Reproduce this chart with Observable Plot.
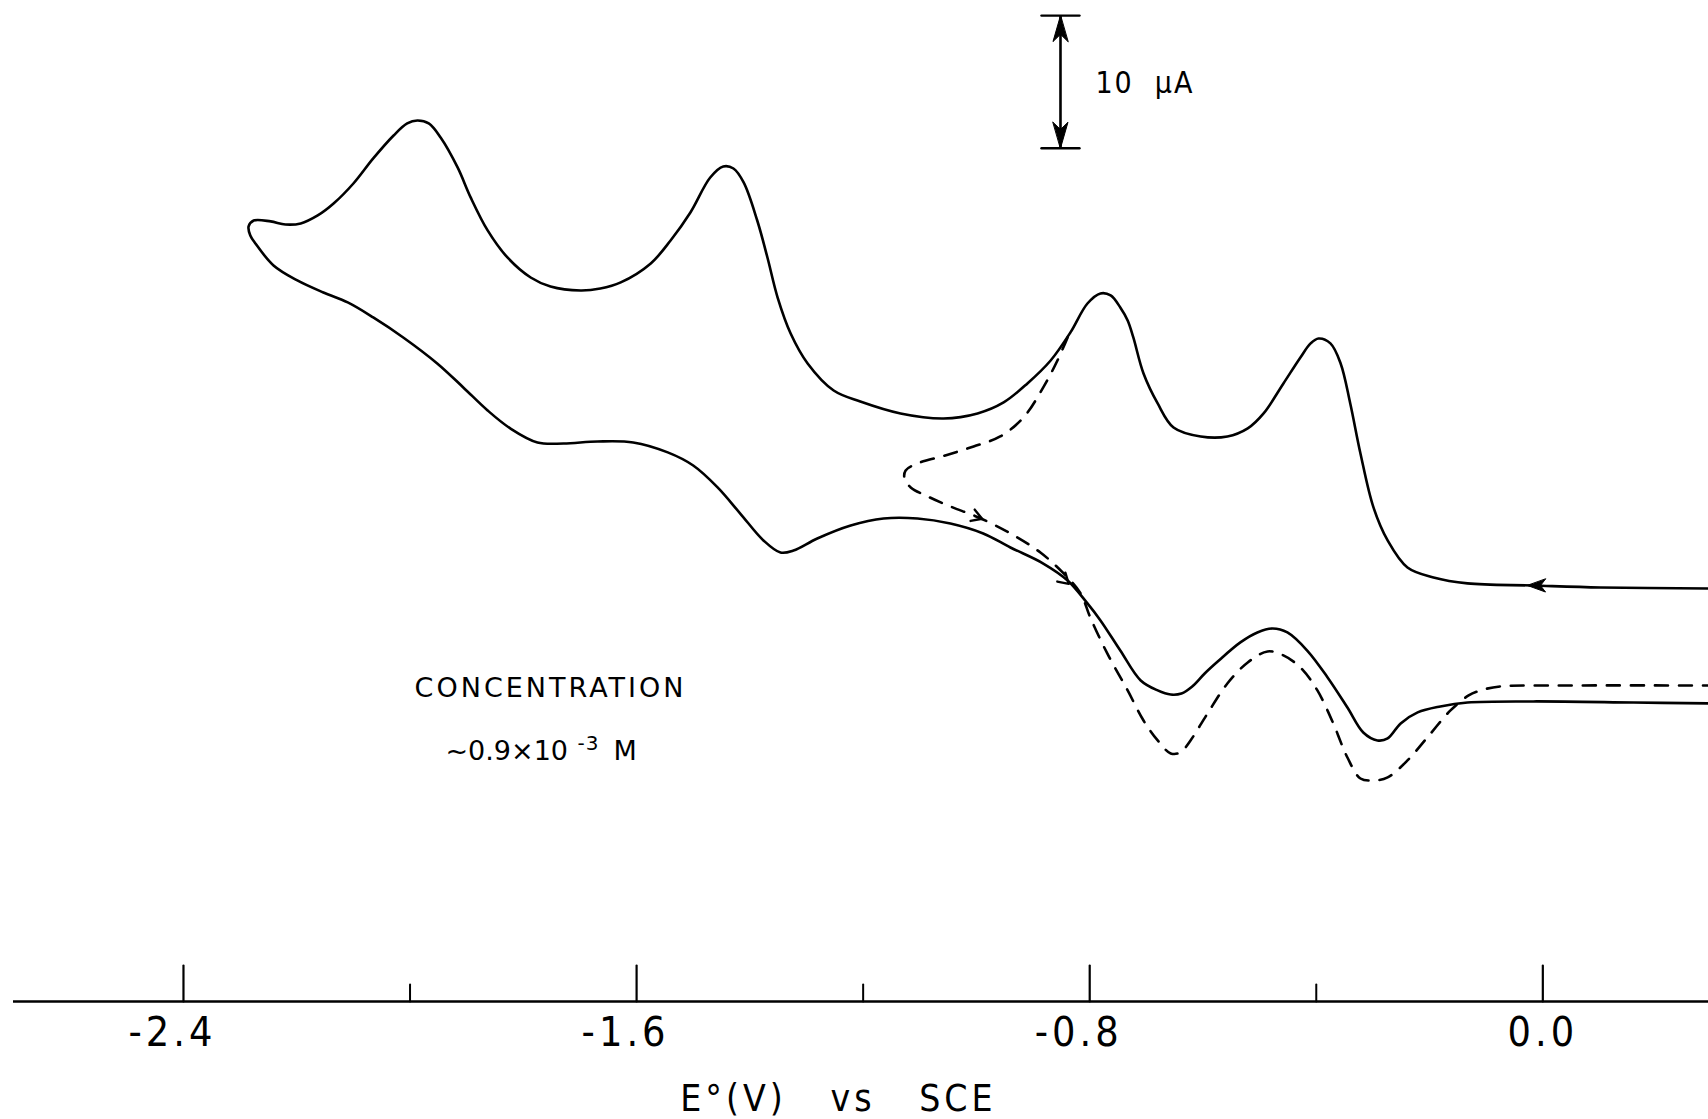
<!DOCTYPE html>
<html>
<head>
<meta charset="utf-8">
<script src="https://cdn.jsdelivr.net/npm/d3@7"></script>
<script src="https://cdn.jsdelivr.net/npm/@observablehq/plot@0.6"></script>
<style>
  html, body { margin: 0; padding: 0; background: #fff; }
  #chart svg text { white-space: pre; }
  g[aria-description="ticklabel"] text { letter-spacing: 4px; }
  g[aria-description="title"] text { letter-spacing: 4px; }
  g[aria-description="spaced"] text { letter-spacing: 3px; }
  g[aria-description="unit"] text { letter-spacing: 2px; }
  g[aria-description="sup"] text { letter-spacing: 1px; }
</style>
</head>
<body>
<div id="chart"></div>
<script>
// ---- Data (potential in V vs SCE, current in µA) ----
// Solid cyclic voltammogram: forward scan (0.29 V -> -2.29 V, top branch), then reverse scan (bottom branch)
const solidE = [
  0.292, 0.102, -0.017, -0.133, -0.193, -0.239, -0.274, -0.299, -0.322, -0.340,
  -0.357, -0.375, -0.396, -0.410, -0.428, -0.458, -0.493, -0.521, -0.557, -0.604,
  -0.652, -0.680, -0.705, -0.723, -0.733, -0.746, -0.763, -0.781, -0.804, -0.834,
  -0.869, -0.910, -0.952, -0.998, -1.058, -1.134, -1.205, -1.252, -1.298, -1.328,
  -1.351, -1.369, -1.387, -1.411, -1.429, -1.447, -1.470, -1.505, -1.540, -1.575,
  -1.628, -1.664, -1.699, -1.752, -1.787, -1.828, -1.863, -1.893, -1.916, -1.946,
  -1.967, -1.987, -2.005, -2.029, -2.065, -2.100, -2.135, -2.163, -2.193, -2.220,
  -2.246, -2.276, -2.285,
  -2.282, -2.273, -2.241, -2.199, -2.153, -2.110, -2.065, -2.012, -1.952, -1.906,
  -1.863, -1.823, -1.775, -1.729, -1.669, -1.606, -1.545, -1.500, -1.457,
  -1.417, -1.376, -1.346, -1.323, -1.281, -1.222, -1.164, -1.104, -1.046, -0.988,
  -0.940, -0.882, -0.839, -0.804, -0.781, -0.746, -0.710, -0.680, -0.657, -0.638,
  -0.619, -0.597, -0.574, -0.534, -0.504, -0.477, -0.451, -0.416, -0.380, -0.345, -0.317,
  -0.292, -0.274, -0.251, -0.221, -0.181, -0.133, -0.017, 0.160, 0.292
];
const solidI = [
  4.30, 4.37, 4.52, 4.68, 5.13, 5.88, 7.92, 10.41, 14.48, 18.25,
  21.27, 22.78, 23.15, 22.78, 21.72, 19.76, 17.50, 16.37, 15.76, 15.76,
  16.44, 18.25, 20.51, 23.23, 24.51, 25.49, 26.40, 26.55, 25.79, 23.61,
  21.49, 19.76, 18.33, 17.50, 17.12, 17.50, 18.40, 19.23, 21.27, 23.53,
  26.24, 29.26, 32.05, 34.92, 35.97, 36.12, 35.29, 32.65, 30.54, 28.81,
  27.38, 26.92, 26.77, 27.07, 27.75, 29.26, 31.30, 33.79, 36.05, 38.31,
  39.37, 39.59, 39.37, 38.46, 36.73, 34.84, 33.33, 32.43, 31.83, 31.75,
  31.98, 32.05, 31.60,
  30.92, 30.32, 28.66, 27.53, 26.62, 25.87, 24.74, 23.23, 21.27, 19.46,
  17.72, 16.37, 15.31, 15.23, 15.38, 15.31, 14.56, 13.57, 11.92,
  9.95, 7.92, 7.01, 7.16, 8.07, 9.05, 9.58, 9.58, 9.20, 8.45,
  7.39, 6.18, 4.90, 3.17, 1.89, -0.38, -2.64, -3.39, -3.70, -3.62,
  -3.09, -2.11, -1.21, 0.23, 0.98, 1.28, 0.98, -0.38, -2.41, -4.68, -6.56,
  -7.16, -7.01, -5.88, -5.05, -4.60, -4.30, -4.22, -4.30, -4.37
];
// Dashed curve: scan reversed at about -1.13 V
const dashedE = [
  -0.839, -0.857, -0.882, -0.917, -0.958, -1.005, -1.055, -1.104, -1.125, -1.127,
  -1.116, -1.086, -1.046, -0.996, -0.940, -0.887, -0.846, -0.816, -0.799, -0.769,
  -0.733, -0.705, -0.680, -0.657, -0.640, -0.622, -0.592, -0.557, -0.521, -0.486,
  -0.458, -0.428, -0.398, -0.370, -0.345, -0.322, -0.299, -0.274, -0.239, -0.204,
  -0.163, -0.131, -0.110, -0.075, 0.044, 0.292
];
const dashedI = [
  23.23, 21.49, 19.46, 17.19, 15.76, 15.01, 14.33, 13.73, 13.20, 12.59,
  11.92, 11.24, 10.48, 9.65, 8.45, 7.01, 5.43, 3.92, 2.11, -0.60,
  -3.39, -5.66, -7.16, -8.14, -8.07, -7.16, -5.13, -2.87, -1.28, -0.45,
  -0.75, -1.66, -3.39, -5.88, -8.45, -10.03, -10.18, -9.95, -8.67, -6.94,
  -4.90, -3.77, -3.39, -3.09, -3.02, -3.02
];
// Direction arrows on the curves: position and heading (degrees, 0 = up, clockwise)
const arrowE = [-0.027, -0.990, -0.837];
const arrowI = [4.52, 9.56, 4.65];
const arrowHeading = [-90, 110, 132];
const arrowFilled = [true, false, false];

const majorTicks = [-2.4, -1.6, -0.8, 0.0];
const minorTicks = [-2.0, -1.2, -0.4];
const scaleBarE = -0.8516;          // position of the current scale bar
const scaleBarI = [37.5, 47.5];     // 10 µA span
const scaleBarLabel = "10  \u03bcA";
const concLabel = "CONCENTRATION";
const concValue = ["~0.9\u00d710", "-3", "M"];
const xTitle = "E\u00b0(V)   vs   SCE";

// ---- Layout ----
const W = 1708, H = 1119;
const xDomain = [-2.7001, 0.2925];
const yDomain = [-26.85, 48.64];

const solid = solidE.map((e, i) => ({E: e, I: solidI[i]}));
const dashed = dashedE.map((e, i) => ({E: e, I: dashedI[i]}));
const arrows = arrowE.map((e, i) => ({E: e, I: arrowI[i], a: arrowHeading[i], filled: arrowFilled[i]}));

const seg = {draw(ctx, l) { ctx.moveTo(0, 0); ctx.lineTo(0, -l); }};
const headFilled = {draw(ctx, l, r) { ctx.moveTo(0, 0); ctx.lineTo(-r, l); ctx.lineTo(0, 0.72 * l); ctx.lineTo(r, l); ctx.closePath(); }};
const headOpen = {draw(ctx, l, r) { ctx.moveTo(-r, l); ctx.lineTo(0, 0); ctx.lineTo(r, l); }};

const condensed = "'DejaVu Sans Condensed','Liberation Sans Narrow','DejaVu Sans',sans-serif";
const regular = "'DejaVu Sans','Liberation Sans',sans-serif";
const axisY = () => yDomain[0];

const plot = Plot.plot({
  width: W, height: H,
  marginLeft: 13, marginRight: 0, marginTop: 0, marginBottom: 118,
  x: {domain: xDomain, axis: null},
  y: {domain: yDomain, axis: null},
  style: {background: "#fff", color: "#000", overflow: "visible"},
  marks: [
    // x axis line, ticks, labels, title
    Plot.ruleY([yDomain[0]], {stroke: "#000", strokeWidth: 2.6}),
    Plot.vector(majorTicks, {x: d => d, y: axisY, length: 36, anchor: "start", shape: seg, stroke: "#000", strokeWidth: 2.2}),
    Plot.vector(minorTicks, {x: d => d, y: axisY, length: 17, anchor: "start", shape: seg, stroke: "#000", strokeWidth: 2}),
    Plot.text(majorTicks, {filter: d => d < 0, x: d => d, y: axisY, text: d => d.toFixed(1), lineAnchor: "top", dy: 15, dx: -11,
      fontSize: 41, fontFamily: condensed, fill: "#000", ariaDescription: "ticklabel"}),
    Plot.text(majorTicks, {filter: d => d >= 0, x: d => d, y: axisY, text: d => d.toFixed(1), lineAnchor: "top", dy: 15,
      fontSize: 41, fontFamily: condensed, fill: "#000", ariaDescription: "ticklabel"}),
    Plot.text([xTitle], {x: () => -1.2436, y: axisY, text: d => d, lineAnchor: "middle", dy: 98,
      fontSize: 37, fontFamily: condensed, fill: "#000", ariaDescription: "title"}),

    // curves
    Plot.line(solid, {x: "E", y: "I", curve: "catmull-rom", stroke: "#000", strokeWidth: 2.6, strokeLinejoin: "round"}),
    Plot.line(dashed, {x: "E", y: "I", curve: "catmull-rom", stroke: "#000", strokeWidth: 2.6, strokeDasharray: "13,11"}),

    // direction arrows
    Plot.vector(arrows, {filter: d => d.filled, x: "E", y: "I", rotate: "a", length: 18, r: 6.5, anchor: "start",
      shape: headFilled, fill: "#000", stroke: "#000", strokeWidth: 1}),
    Plot.vector(arrows, {filter: d => !d.filled, x: "E", y: "I", rotate: "a", length: 10, r: 6, anchor: "start",
      shape: headOpen, fill: "none", stroke: "#000", strokeWidth: 2.4}),

    // current scale bar
    Plot.ruleX([scaleBarE], {x: d => d, y1: () => scaleBarI[0], y2: () => scaleBarI[1], stroke: "#000", strokeWidth: 2.6}),
    Plot.vector(scaleBarI, {x: () => scaleBarE, y: d => d, rotate: 90, length: 38, anchor: "middle", shape: seg, stroke: "#000", strokeWidth: 2.4}),
    Plot.vector(scaleBarI, {x: () => scaleBarE, y: d => d, rotate: d => (d === scaleBarI[1] ? 0 : 180), length: 26, r: 7.5, anchor: "start",
      shape: headFilled, fill: "#000", stroke: "#000", strokeWidth: 1}),
    Plot.text([scaleBarLabel], {x: () => -0.790, y: () => 42.42, text: d => d, textAnchor: "start", lineAnchor: "middle",
      fontSize: 30, fontFamily: condensed, fill: "#000", ariaDescription: "unit"}),

    // concentration annotation
    Plot.text([concLabel], {x: () => -1.752, y: () => -3.20, text: d => d, lineAnchor: "middle",
      fontSize: 27, fontFamily: regular, fill: "#000", ariaDescription: "spaced"}),
    Plot.text([concValue[0]], {x: () => -1.9374, y: () => -7.96, text: d => d, textAnchor: "start", lineAnchor: "middle",
      fontSize: 27, fontFamily: regular, fill: "#000"}),
    Plot.text([concValue[1]], {x: () => -1.7044, y: () => -7.42, text: d => d, textAnchor: "start", lineAnchor: "middle",
      fontSize: 20, fontFamily: regular, fill: "#000", ariaDescription: "sup"}),
    Plot.text([concValue[2]], {x: () => -1.6408, y: () => -7.96, text: d => d, textAnchor: "start", lineAnchor: "middle",
      fontSize: 27, fontFamily: regular, fill: "#000"})
  ]
});
document.getElementById("chart").appendChild(plot);
</script>
</body>
</html>
